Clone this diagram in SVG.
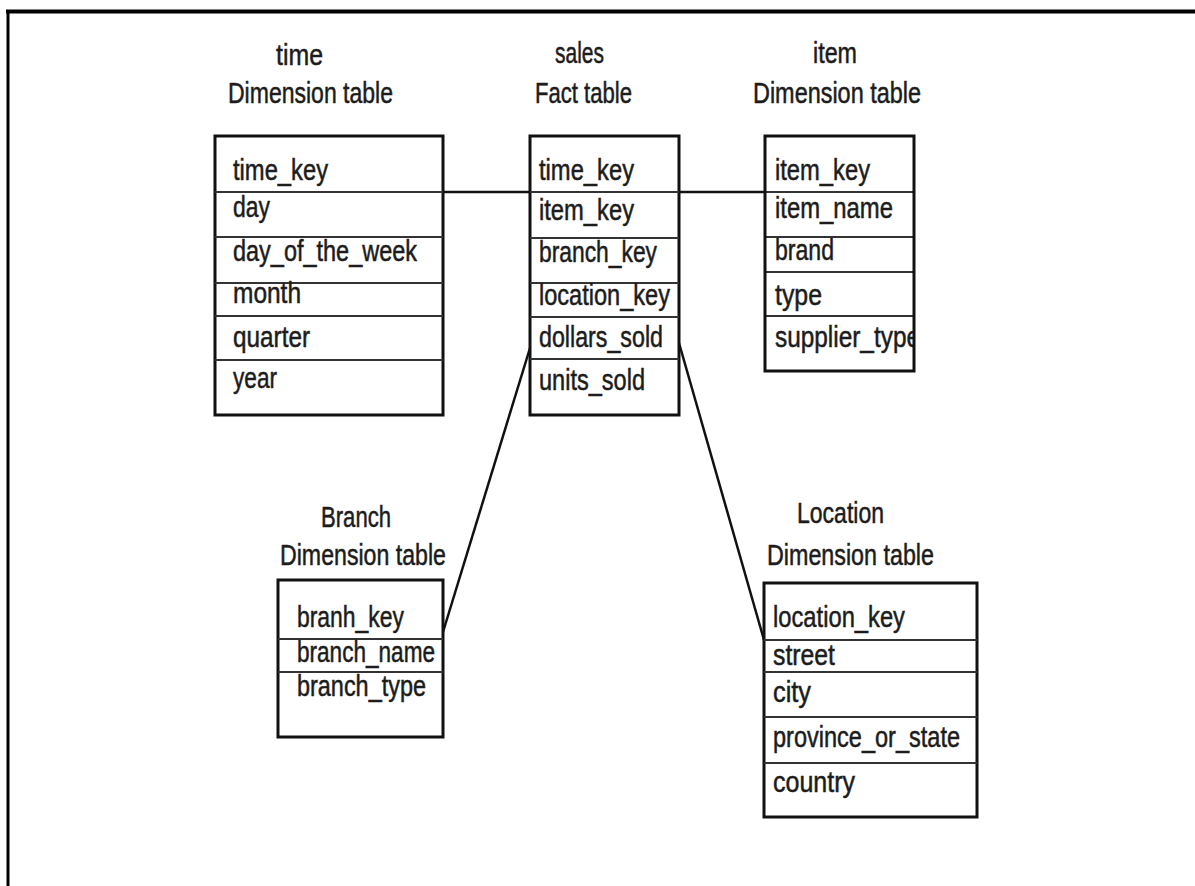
<svg xmlns="http://www.w3.org/2000/svg" width="1195" height="886" viewBox="0 0 1195 886">
<style>
text{font-family:"Liberation Sans",Arial,sans-serif;font-size:29px;fill:#1c1c1c;stroke:#1c1c1c;stroke-width:0.5}
.box{fill:none;stroke:#111;stroke-width:3}
.div{stroke:#333;stroke-width:2}
.conn{stroke:#111;stroke-width:2.5;fill:none}
</style>
<defs>
<clipPath id="itemclip"><rect x="765" y="136" width="149" height="235"/></clipPath>
</defs>
<rect width="1195" height="886" fill="#fff"/>
<g id="frame">
<line x1="6" y1="11.5" x2="1195" y2="11.5" stroke="#000" stroke-width="4"/>
<line x1="8" y1="10" x2="8" y2="886" stroke="#000" stroke-width="3"/>
</g>
<g id="connectors">
<line class="conn" x1="443" y1="192" x2="530" y2="192"/>
<line class="conn" x1="679" y1="192" x2="765" y2="192"/>
<line class="conn" x1="530" y1="348" x2="443" y2="632"/>
<line class="conn" x1="679" y1="343" x2="764" y2="640"/>
</g>
<g id="time">
<text x="276" y="65" textLength="47" lengthAdjust="spacingAndGlyphs">time</text>
<text x="228" y="103" textLength="165" lengthAdjust="spacingAndGlyphs">Dimension table</text>
<rect class="box" x="215" y="136" width="228" height="279"/>
<line class="div" x1="215" y1="192" x2="443" y2="192"/>
<line class="div" x1="215" y1="237" x2="443" y2="237"/>
<line class="div" x1="215" y1="283" x2="443" y2="283"/>
<line class="div" x1="215" y1="316" x2="443" y2="316"/>
<line class="div" x1="215" y1="360" x2="443" y2="360"/>
<text x="233" y="180" textLength="95" lengthAdjust="spacingAndGlyphs">time_key</text>
<text x="233" y="217" textLength="37" lengthAdjust="spacingAndGlyphs">day</text>
<text x="233" y="261" textLength="184" lengthAdjust="spacingAndGlyphs">day_of_the_week</text>
<text x="233" y="303" textLength="68" lengthAdjust="spacingAndGlyphs">month</text>
<text x="233" y="347" textLength="77" lengthAdjust="spacingAndGlyphs">quarter</text>
<text x="233" y="388" textLength="44" lengthAdjust="spacingAndGlyphs">year</text>
</g>
<g id="sales">
<text x="555" y="63" textLength="49" lengthAdjust="spacingAndGlyphs">sales</text>
<text x="535" y="103" textLength="97" lengthAdjust="spacingAndGlyphs">Fact table</text>
<rect class="box" x="530" y="136" width="149" height="279"/>
<line class="div" x1="530" y1="192" x2="679" y2="192"/>
<line class="div" x1="530" y1="238" x2="679" y2="238"/>
<line class="div" x1="530" y1="283" x2="679" y2="283"/>
<line class="div" x1="530" y1="317" x2="679" y2="317"/>
<line class="div" x1="530" y1="359" x2="679" y2="359"/>
<text x="539" y="180" textLength="95" lengthAdjust="spacingAndGlyphs">time_key</text>
<text x="539" y="220" textLength="95" lengthAdjust="spacingAndGlyphs">item_key</text>
<text x="539" y="262" textLength="118" lengthAdjust="spacingAndGlyphs">branch_key</text>
<text x="539" y="305" textLength="131" lengthAdjust="spacingAndGlyphs">location_key</text>
<text x="539" y="347" textLength="124" lengthAdjust="spacingAndGlyphs">dollars_sold</text>
<text x="539" y="390" textLength="106" lengthAdjust="spacingAndGlyphs">units_sold</text>
</g>
<g id="item">
<text x="813" y="63" textLength="44" lengthAdjust="spacingAndGlyphs">item</text>
<text x="753" y="103" textLength="168" lengthAdjust="spacingAndGlyphs">Dimension table</text>
<line class="div" x1="765" y1="192" x2="914" y2="192"/>
<line class="div" x1="765" y1="237" x2="914" y2="237"/>
<line class="div" x1="765" y1="272" x2="914" y2="272"/>
<line class="div" x1="765" y1="316" x2="914" y2="316"/>
<g clip-path="url(#itemclip)">
<text x="775" y="180" textLength="95" lengthAdjust="spacingAndGlyphs">item_key</text>
<text x="775" y="218" textLength="118" lengthAdjust="spacingAndGlyphs">item_name</text>
<text x="775" y="260" textLength="59" lengthAdjust="spacingAndGlyphs">brand</text>
<text x="775" y="305" textLength="47" lengthAdjust="spacingAndGlyphs">type</text>
<text x="775" y="347" textLength="145" lengthAdjust="spacingAndGlyphs">supplier_type</text>
</g>
<rect class="box" x="765" y="136" width="149" height="235"/>
</g>
<g id="branch">
<text x="321" y="527" textLength="70" lengthAdjust="spacingAndGlyphs">Branch</text>
<text x="280" y="565" textLength="166" lengthAdjust="spacingAndGlyphs">Dimension table</text>
<rect class="box" x="278" y="580" width="165" height="157"/>
<line class="div" x1="278" y1="639" x2="443" y2="639"/>
<line class="div" x1="278" y1="672" x2="443" y2="672"/>
<text x="297" y="627" textLength="107" lengthAdjust="spacingAndGlyphs">branh_key</text>
<text x="297" y="662" textLength="138" lengthAdjust="spacingAndGlyphs">branch_name</text>
<text x="297" y="696" textLength="129" lengthAdjust="spacingAndGlyphs">branch_type</text>
</g>
<g id="location">
<text x="797" y="523" textLength="87" lengthAdjust="spacingAndGlyphs">Location</text>
<text x="767" y="565" textLength="167" lengthAdjust="spacingAndGlyphs">Dimension table</text>
<rect class="box" x="764" y="583" width="213" height="234"/>
<line class="div" x1="764" y1="640" x2="977" y2="640"/>
<line class="div" x1="764" y1="672" x2="977" y2="672"/>
<line class="div" x1="764" y1="717" x2="977" y2="717"/>
<line class="div" x1="764" y1="763" x2="977" y2="763"/>
<text x="773" y="627" textLength="132" lengthAdjust="spacingAndGlyphs">location_key</text>
<text x="773" y="665" textLength="62" lengthAdjust="spacingAndGlyphs">street</text>
<text x="773" y="702" textLength="38" lengthAdjust="spacingAndGlyphs">city</text>
<text x="773" y="747" textLength="187" lengthAdjust="spacingAndGlyphs">province_or_state</text>
<text x="773" y="792" textLength="82" lengthAdjust="spacingAndGlyphs">country</text>
</g>
</svg>
